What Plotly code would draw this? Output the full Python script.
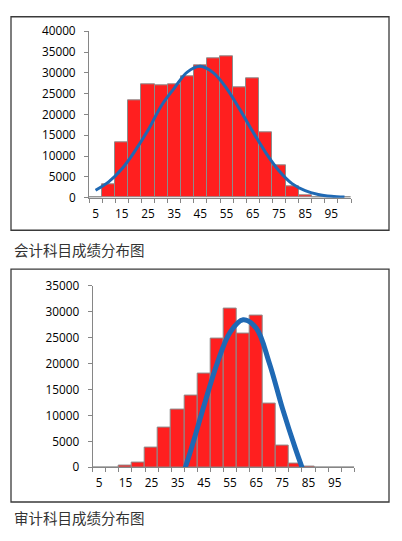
import plotly.graph_objects as go

# ---- data ----
categories = ["5", "10", "15", "20", "25", "30", "35", "40", "45", "50",
              "55", "60", "65", "70", "75", "80", "85", "90", "95", "100"]
tick_labels = ["5", "", "15", "", "25", "", "35", "", "45", "",
               "55", "", "65", "", "75", "", "85", "", "95", ""]

acct_counts = [0, 3300, 13400, 23400, 27300, 27000, 27300, 29100, 31900, 33500,
               34000, 26600, 28800, 15700, 7700, 2650, 550, 0, 0, 0]
acct_curve = [1800, 3800, 6900, 11200, 16200, 22000, 26300, 30200, 31600, 30000,
              26300, 21300, 15900, 10800, 6500, 3400, 1700, 800, 350, 150]

audit_counts = [0, 50, 250, 1000, 3800, 7700, 11100, 13900, 18100, 24800,
                30600, 25800, 29300, 12300, 4100, 700, 100, 0, 0, 0]
audit_curve_x = ["35", "40", "45", "50", "55", "60", "65", "70", "75", "80", "85"]
audit_curve = [-4500, 3300, 11800, 19900, 26000, 28400, 26800, 20100, 11400, 3600, -3500]

acct_yticks = [0, 5000, 10000, 15000, 20000, 25000, 30000, 35000, 40000]
acct_ylabels = ["0", "5000", "10000", "15000", "20000", "25000", "30000", "35000", "40000"]
audit_yticks = [0, 5000, 10000, 15000, 20000, 25000, 30000, 35000]
audit_ylabels = ["0", "5000", "10000", "15000", "20000", "25000", "30000", "35000"]

captions = ["会计科目成绩分布图", "审计科目成绩分布图"]

# ---- styling ----
W, H = 402, 541
RED = "#FF1F1F"
BAR_EDGE = "#8C8C8C"
BLUE = "#1F69B4"
AXIS = "#868686"
FONT = "Open Sans"

def px_x(p):
    return p / W

def px_y(p):
    return 1 - p / H

fig = go.Figure()

fig.add_trace(go.Bar(x=categories, y=acct_counts, marker=dict(color=RED, line=dict(color=BAR_EDGE, width=1)),
                     xaxis="x", yaxis="y", showlegend=False))
fig.add_trace(go.Scatter(x=categories, y=acct_curve, mode="lines",
                         line=dict(color=BLUE, width=3, shape="spline"),
                         xaxis="x", yaxis="y", showlegend=False))
fig.add_trace(go.Bar(x=categories, y=audit_counts, marker=dict(color=RED, line=dict(color=BAR_EDGE, width=1)),
                     xaxis="x2", yaxis="y2", showlegend=False))
fig.add_trace(go.Scatter(x=audit_curve_x, y=audit_curve, mode="lines",
                         line=dict(color=BLUE, width=5, shape="spline"),
                         xaxis="x2", yaxis="y2", showlegend=False))

xcommon = dict(type="category", categoryorder="array", categoryarray=categories,
               tickmode="array", tickvals=categories, ticktext=tick_labels,
               tickson="boundaries", ticks="outside", ticklen=4, tickcolor=AXIS,
               tickangle=0, ticklabelstandoff=5,
               showline=True, linecolor=AXIS, linewidth=1, showgrid=False,
               zeroline=False, fixedrange=True,
               tickfont=dict(family=FONT, size=11.8, color="#000"))
ycommon = dict(ticks="outside", ticklen=4, tickcolor=AXIS, showline=True,
               linecolor=AXIS, linewidth=1, showgrid=False, zeroline=False,
               tickmode="array", fixedrange=True, ticklabelstandoff=6,
               tickfont=dict(family=FONT, size=11.8, color="#000"))

fig.update_layout(
    width=W, height=H, autosize=False,
    margin=dict(l=0, r=0, t=0, b=0),
    paper_bgcolor="white", plot_bgcolor="white",
    bargap=0,
    xaxis=dict(**xcommon, domain=[px_x(89), px_x(351)], anchor="y"),
    yaxis=dict(**ycommon, domain=[px_y(194.5), px_y(23)], range=[0, 40000],
               tickvals=acct_yticks, ticktext=acct_ylabels, anchor="x"),
    xaxis2=dict(**xcommon, domain=[px_x(92.7), px_x(354.3)], anchor="y2"),
    yaxis2=dict(**ycommon, domain=[px_y(472.3), px_y(285)], range=[0, 35000],
                tickvals=audit_yticks, ticktext=audit_ylabels, anchor="x2"),
)

# frames
for top, bot in [(8, 228), (268, 508)]:
    fig.add_shape(type="rect", xref="paper", yref="paper",
                  x0=px_x(11), x1=px_x(389), y0=px_y(bot), y1=px_y(top),
                  line=dict(color="#3A3A3A", width=1.3), fillcolor="rgba(0,0,0,0)", layer="above")

# captions
for txt, yc in zip(captions, [248, 524.5]):
    fig.add_annotation(text=txt, xref="paper", yref="paper", x=px_x(12), y=px_y(yc),
                       xanchor="left", yanchor="middle", showarrow=False,
                       font=dict(family="Noto Sans CJK SC", size=14.5, color="#333"))

fig.write_html("out.html", config={"displayModeBar": False},
               post_script="document.body.style.margin='0';document.body.style.overflow='hidden';")
